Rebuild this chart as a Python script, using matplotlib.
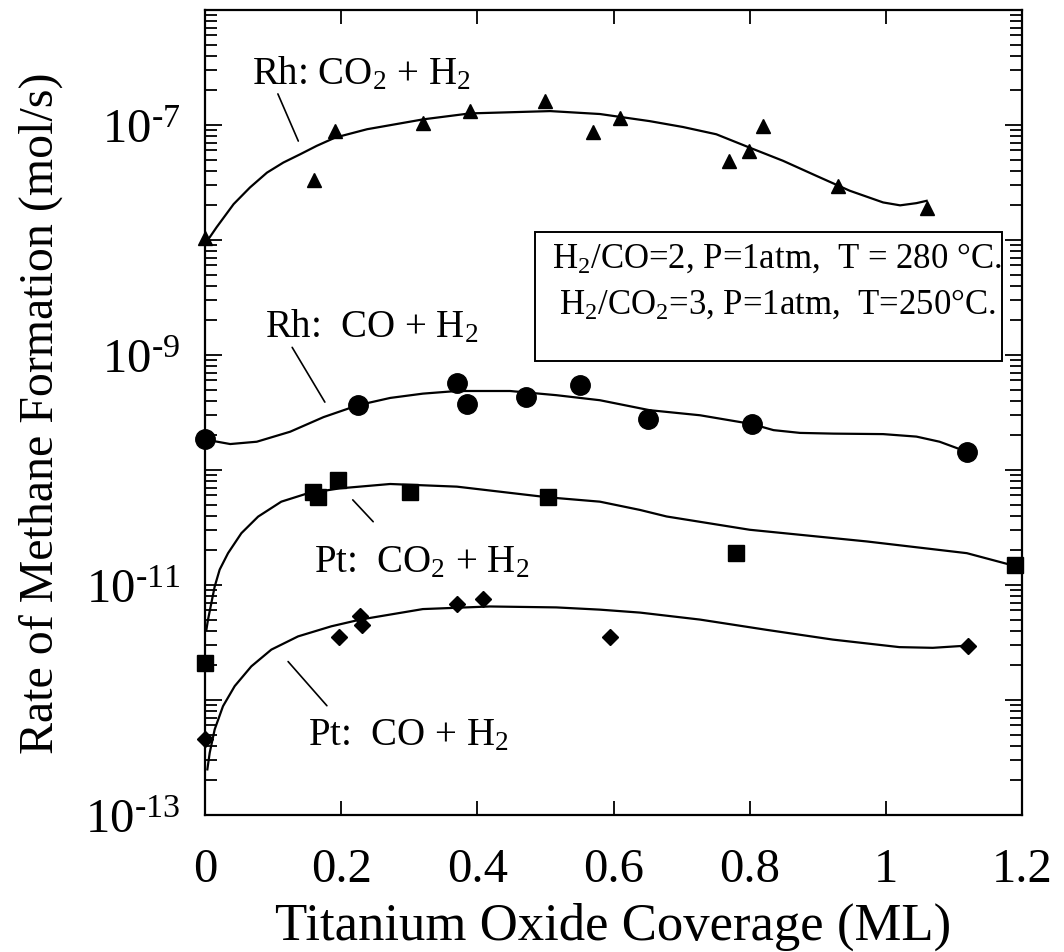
import numpy as np
import matplotlib
matplotlib.use('Agg')
import matplotlib.pyplot as plt
from matplotlib.ticker import LogLocator, FuncFormatter, NullFormatter
from matplotlib.patches import Rectangle

plt.rcParams['font.family'] = ['Liberation Serif', 'DejaVu Serif']
plt.rcParams['mathtext.fontset'] = 'custom'
plt.rcParams['mathtext.rm'] = 'Liberation Serif'
plt.rcParams['mathtext.it'] = 'Liberation Serif:italic'

# %% data

# Rh: CO2 + H2  (triangles)
rh_co2_x = [0.0, 0.160, 0.191, 0.320, 0.389, 0.499, 0.570, 0.609, 0.769, 0.799, 0.819, 0.930, 1.060]
rh_co2_y = [1.05e-8, 3.3e-8, 8.9e-8, 1.04e-7, 1.32e-7, 1.6e-7, 8.7e-8, 1.15e-7, 4.9e-8, 5.96e-8, 9.8e-8, 2.96e-8, 1.9e-8]
rh_co2_fit_x = [0.0, 0.017, 0.042, 0.066, 0.091, 0.115, 0.140, 0.164, 0.191, 0.238, 0.321, 0.389, 0.507,
                0.58, 0.653, 0.702, 0.751, 0.80, 0.849, 0.898, 0.947, 0.996, 1.021, 1.045, 1.06]
rh_co2_fit_y = [9.2e-9, 1.29e-8, 2.05e-8, 2.86e-8, 3.85e-8, 4.71e-8, 5.57e-8, 6.58e-8, 7.76e-8, 9.18e-8,
                1.12e-7, 1.26e-7, 1.32e-7, 1.245e-7, 1.08e-7, 9.6e-8, 8.3e-8, 6.35e-8, 4.88e-8, 3.61e-8,
                2.68e-8, 2.12e-8, 2.0e-8, 2.09e-8, 2.19e-8]

# Rh: CO + H2  (circles)
rh_co_x = [0.0, 0.225, 0.370, 0.385, 0.471, 0.551, 0.650, 0.803, 1.119]
rh_co_y = [1.86e-10, 3.66e-10, 5.68e-10, 3.73e-10, 4.27e-10, 5.5e-10, 2.75e-10, 2.5e-10, 1.43e-10]
rh_co_fit_x = [0.0, 0.037, 0.076, 0.125, 0.174, 0.225, 0.272, 0.32, 0.37, 0.448, 0.516, 0.58, 0.653,
               0.727, 0.803, 0.835, 0.874, 0.923, 0.996, 1.045, 1.079, 1.119]
rh_co_fit_y = [1.84e-10, 1.68e-10, 1.76e-10, 2.15e-10, 2.88e-10, 3.66e-10, 4.23e-10, 4.61e-10, 4.86e-10,
               4.86e-10, 4.47e-10, 4.04e-10, 3.31e-10, 2.99e-10, 2.51e-10, 2.22e-10, 2.1e-10, 2.07e-10,
               2.05e-10, 1.95e-10, 1.76e-10, 1.44e-10]

# Pt: CO2 + H2  (squares)
pt_co2_x = [0.0, 0.159, 0.166, 0.195, 0.301, 0.504, 0.780, 1.19]
pt_co2_y = [2.1e-12, 6.4e-11, 5.8e-11, 8.1e-11, 6.4e-11, 5.8e-11, 1.9e-11, 1.48e-11]
pt_co2_fit_x = [0.002, 0.0044, 0.0093, 0.0142, 0.0215, 0.0338, 0.0534, 0.078, 0.112, 0.151, 0.198, 0.272,
                0.37, 0.504, 0.58, 0.639, 0.678, 0.80, 0.972, 1.119, 1.192]
pt_co2_fit_y = [4.08e-12, 5.0e-12, 6.97e-12, 9.7e-12, 1.36e-11, 1.89e-11, 2.82e-11, 3.93e-11, 5.3e-11,
                6.27e-11, 6.92e-11, 7.55e-11, 7.16e-11, 5.78e-11, 5.3e-11, 4.49e-11, 3.94e-11, 3.02e-11,
                2.39e-11, 1.89e-11, 1.45e-11]

# Pt: CO + H2  (diamonds)
pt_co_x = [0.0, 0.197, 0.228, 0.230, 0.370, 0.409, 0.595, 1.12]
pt_co_y = [4.54e-13, 3.53e-12, 5.4e-12, 4.52e-12, 6.84e-12, 7.55e-12, 3.53e-12, 2.97e-12]
pt_co_fit_x = [0.0034, 0.0069, 0.0142, 0.0264, 0.0436, 0.068, 0.0974, 0.1366, 0.1855, 0.228, 0.32, 0.418,
               0.516, 0.58, 0.639, 0.727, 0.825, 0.922, 1.02, 1.069, 1.12]
pt_co_fit_y = [2.49e-13, 3.48e-13, 5.55e-13, 8.83e-13, 1.32e-12, 1.96e-12, 2.74e-12, 3.57e-12, 4.37e-12,
               5.0e-12, 6.17e-12, 6.5e-12, 6.38e-12, 6.1e-12, 5.75e-12, 5.0e-12, 4.07e-12, 3.35e-12,
               2.88e-12, 2.84e-12, 2.97e-12]

x_ticks = [0, 0.2, 0.4, 0.6, 0.8, 1, 1.2]
x_tick_labels = ['0', '0.2', '0.4', '0.6', '0.8', '1', '1.2']
labelled_decades = [-7, -9, -11, -13]

# %% plot

fig = plt.figure(figsize=(10.64, 9.53), dpi=100)
ax = fig.add_axes([0.1927, 0.1438, 0.7678, 0.8447])

lw = 1.6
ax.plot(rh_co2_fit_x, rh_co2_fit_y, 'k-', lw=lw)
ax.plot(rh_co_fit_x, rh_co_fit_y, 'k-', lw=lw)
ax.plot(pt_co2_fit_x, pt_co2_fit_y, 'k-', lw=lw)
ax.plot(pt_co_fit_x, pt_co_fit_y, 'k-', lw=lw)

ax.plot(rh_co2_x, rh_co2_y, 'k^', ms=10.5, ls='none', clip_on=False, zorder=5)
ax.plot(rh_co_x, rh_co_y, 'ko', ms=14, ls='none', clip_on=False, zorder=5)
ax.plot(pt_co2_x, pt_co2_y, 'ks', ms=11, ls='none', clip_on=False, zorder=5)
ax.plot(pt_co_x, pt_co_y, 'kD', ms=8.5, ls='none', clip_on=False, zorder=5)

ax.set_yscale('log')
ax.set_xlim(0, 1.2)
ax.set_ylim(1e-13, 1e-6)

ax.set_xticks(x_ticks)
ax.set_xticklabels(x_tick_labels)
ax.yaxis.set_major_locator(LogLocator(base=10, numticks=20))
ax.yaxis.set_minor_locator(LogLocator(base=10, subs=np.arange(2, 10), numticks=20))
ax.yaxis.set_minor_formatter(NullFormatter())


def decade_label(v, pos):
    e = int(round(np.log10(v)))
    if e in labelled_decades:
        return r'$10^{\text{-}%d}$' % -e
    return ''


ax.yaxis.set_major_formatter(FuncFormatter(decade_label))

ax.tick_params(axis='both', which='both', direction='in', top=True, right=True, width=1.3)
ax.tick_params(axis='x', which='major', length=10, pad=23, labelsize=35)
ax.tick_params(axis='y', which='major', length=12, pad=18, labelsize=35)
ax.tick_params(axis='y', which='minor', length=8.5)
for s in ax.spines.values():
    s.set_linewidth(1.6)

ax.set_xlabel('Titanium Oxide Coverage (ML)', fontsize=38, labelpad=8)
ax.set_ylabel('Rate of Methane Formation (mol/s)', fontsize=34.5, labelpad=16)

# %% curve labels with leader lines
fs = 28
ax.text(0.069, 10**-6.636, r'Rh: CO$_2$ + H$_2$', fontsize=fs, va='baseline')
ax.annotate('', xy=(0.137, 10**-7.14), xytext=(0.107, 10**-6.73),
            arrowprops=dict(arrowstyle='-', lw=1.2, shrinkA=0, shrinkB=0))

ax.text(0.088, 10**-8.84, r'Rh:  CO + H$_2$', fontsize=fs, va='baseline')
ax.annotate('', xy=(0.176, 10**-9.41), xytext=(0.128, 10**-8.934),
            arrowprops=dict(arrowstyle='-', lw=1.2, shrinkA=0, shrinkB=0))

ax.text(0.160, 10**-10.885, r'Pt:  CO$_2$ + H$_2$', fontsize=fs, va='baseline')
ax.annotate('', xy=(0.247, 10**-10.45), xytext=(0.217, 10**-10.26),
            arrowprops=dict(arrowstyle='-', lw=1.2, shrinkA=0, shrinkB=0))

ax.text(0.151, 10**-12.386, r'Pt:  CO + H$_2$', fontsize=fs, va='baseline')
ax.annotate('', xy=(0.179, 10**-12.05), xytext=(0.122, 10**-11.666),
            arrowprops=dict(arrowstyle='-', lw=1.2, shrinkA=0, shrinkB=0))

# conditions box
fs_box = 25
ax.add_patch(Rectangle((0.404, 0.564), 0.5715, 0.160, transform=ax.transAxes,
                       fill=False, ec='k', lw=1.4, zorder=6))
ax.text(0.4247, 0.681, r'H$_2$/CO=2, P=1atm,  T = 280 °C.', transform=ax.transAxes,
        fontsize=fs_box, va='baseline', zorder=7)
ax.text(0.433, 0.6236, r'H$_2$/CO$_2$=3, P=1atm,  T=250°C.', transform=ax.transAxes,
        fontsize=fs_box, va='baseline', zorder=7)

fig.savefig('out.png', dpi=100)
